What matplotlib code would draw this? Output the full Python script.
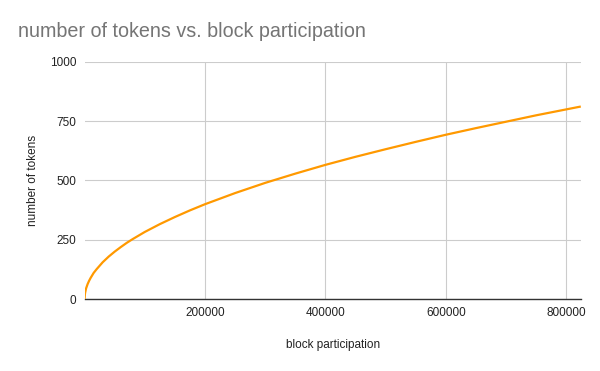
import matplotlib
matplotlib.use('Agg')
import matplotlib.pyplot as plt

# values
block_participation = [0, 500, 1000, 2500, 5000, 7500, 10000, 15000, 20000, 30000, 40000,
                       50000, 60000, 70000, 80000, 90000, 100000, 125000,
                       150000, 175000, 200000, 250000, 300000, 350000, 400000, 450000,
                       500000, 550000, 600000, 650000, 700000, 750000, 800000, 824000]
number_of_tokens = [0, 20, 28, 45, 63, 77, 89, 110, 126, 155, 179,
                    200, 219, 237, 253, 268, 283, 316,
                    346, 374, 400, 447, 490, 529, 566, 600,
                    632, 663, 693, 721, 748, 775, 800, 812]

x_ticks = [200000, 400000, 600000, 800000]
y_ticks = [0, 250, 500, 750, 1000]

plt.rcParams['font.family'] = ['Liberation Sans', 'DejaVu Sans']

fig = plt.figure(figsize=(6, 3.71), dpi=100)
ax = fig.add_axes([0.141, 0.194, 0.827, 0.639])

ax.plot(block_participation, number_of_tokens, color='#ff9900', linewidth=1.6,
        solid_capstyle='butt', solid_joinstyle='round', zorder=3)

ax.set_xlim(0, 824000)
ax.set_ylim(0, 1000)
ax.set_xticks(x_ticks)
ax.set_xticklabels([str(v) for v in x_ticks])
ax.set_yticks(y_ticks)
ax.set_yticklabels([str(v) for v in y_ticks])
ax.tick_params(length=0, labelsize=8.5, colors='#222222', pad=6)

ax.grid(True, color='#cccccc', linewidth=0.8)
ax.set_axisbelow(True)
for side in ['top', 'right', 'left']:
    ax.spines[side].set_visible(False)
ax.spines['bottom'].set_color('#333333')
ax.spines['bottom'].set_linewidth(1.0)

ax.set_xlabel('block participation', fontsize=8.5, color='#222222', labelpad=14)
ax.set_ylabel('number of tokens', fontsize=8.5, color='#222222', labelpad=8)

fig.text(0.03, 0.915, 'number of tokens vs. block participation', fontsize=14.2,
         color='#757575', ha='left', va='center')

fig.savefig('out.png', dpi=100)
